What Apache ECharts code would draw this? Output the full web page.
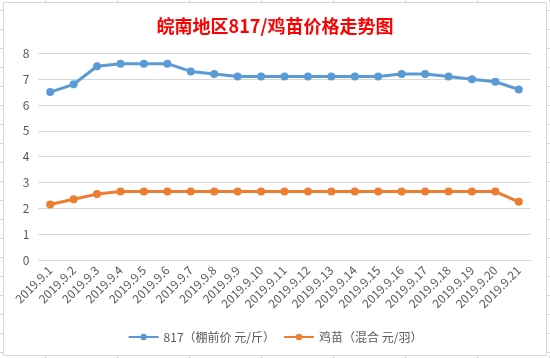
<!DOCTYPE html>
<html>
<head>
<meta charset="utf-8">
<script src="https://cdn.jsdelivr.net/npm/echarts@6/dist/echarts.min.js"></script>
<style>html,body{margin:0;padding:0;background:#fff;}#c{width:550px;height:358px;}</style>
</head>
<body>
<div id="c"></div>
<script>
const categories = ['2019.9.1','2019.9.2','2019.9.3','2019.9.4','2019.9.5','2019.9.6','2019.9.7','2019.9.8','2019.9.9','2019.9.10','2019.9.11','2019.9.12','2019.9.13','2019.9.14','2019.9.15','2019.9.16','2019.9.17','2019.9.18','2019.9.19','2019.9.20','2019.9.21'];
const price817 = [6.5,6.8,7.5,7.6,7.6,7.6,7.3,7.2,7.1,7.1,7.1,7.1,7.1,7.1,7.1,7.2,7.2,7.1,7.0,6.9,6.6];
const chickPrice = [2.15,2.35,2.55,2.65,2.65,2.65,2.65,2.65,2.65,2.65,2.65,2.65,2.65,2.65,2.65,2.65,2.65,2.65,2.65,2.65,2.25];
const seriesNames = ['817（棚前价 元/斤）','鸡苗（混合 元/羽）'];
const titleText = '皖南地区817/鸡苗价格走势图';

const font = '"Noto Sans CJK SC", "Noto Sans", sans-serif';
const deco = [];
// spreadsheet gridlines behind the chart frame
const colX = [45.5,117.5,189.5,261.5,333.5,405.5,477.5,549.5];
colX.forEach(x => {
  deco.push({type:'line', shape:{x1:x,y1:0,x2:x,y2:2}, style:{stroke:'#d4d4d4',lineWidth:1}, silent:true});
  deco.push({type:'line', shape:{x1:x,y1:356,x2:x,y2:358}, style:{stroke:'#d4d4d4',lineWidth:1}, silent:true});
});
for (let y = 10.5; y < 358; y += 19) {
  deco.push({type:'line', shape:{x1:0,y1:y,x2:3,y2:y}, style:{stroke:'#d4d4d4',lineWidth:1}, silent:true});
  deco.push({type:'line', shape:{x1:546,y1:y,x2:550,y2:y}, style:{stroke:'#d4d4d4',lineWidth:1}, silent:true});
}
deco.push({type:'rect', shape:{x:3.5,y:2.5,width:543,height:353}, style:{fill:null,stroke:'#d9d9d9',lineWidth:1}, silent:true});

const chart = echarts.init(document.getElementById('c'), null, {renderer:'canvas'});
chart.setOption({
  animation: false,
  backgroundColor: '#fff',
  graphic: deco,
  title: {
    text: titleText,
    left: 'center',
    top: 12,
    textStyle: {color:'#ff0000', fontSize:18, fontWeight:'bold', fontFamily: font}
  },
  legend: {
    data: seriesNames,
    bottom: 10,
    left: 'center',
    itemWidth: 30,
    itemHeight: 8,
    itemGap: 8,
    textStyle: {color:'#595959', fontSize:12, fontFamily: font}
  },
  grid: {left: 38.5, right: 19.5, top: 53.3, bottom: 98, containLabel: false},
  xAxis: {
    type: 'category',
    data: categories,
    boundaryGap: true,
    axisLine: {show:true, lineStyle:{color:'#d9d9d9', width:1}},
    axisTick: {show:false},
    axisLabel: {rotate:45, color:'#595959', fontSize:12, fontFamily: font, margin: 8, interval: 0}
  },
  yAxis: {
    type: 'value',
    min: 0, max: 8, interval: 1,
    axisLine: {show:false},
    axisTick: {show:false},
    axisLabel: {color:'#595959', fontSize:12, fontFamily: font, margin: 9},
    splitLine: {lineStyle:{color:'#d9d9d9', width:1}}
  },
  series: [
    {
      name: seriesNames[0], type: 'line', data: price817,
      symbol: 'circle', symbolSize: 8,
      lineStyle: {color:'#5b9bd5', width:3},
      itemStyle: {color:'#5b9bd5'}
    },
    {
      name: seriesNames[1], type: 'line', data: chickPrice,
      symbol: 'circle', symbolSize: 8,
      lineStyle: {color:'#ed7d31', width:3},
      itemStyle: {color:'#ed7d31'}
    }
  ]
});
</script>
</body>
</html>
